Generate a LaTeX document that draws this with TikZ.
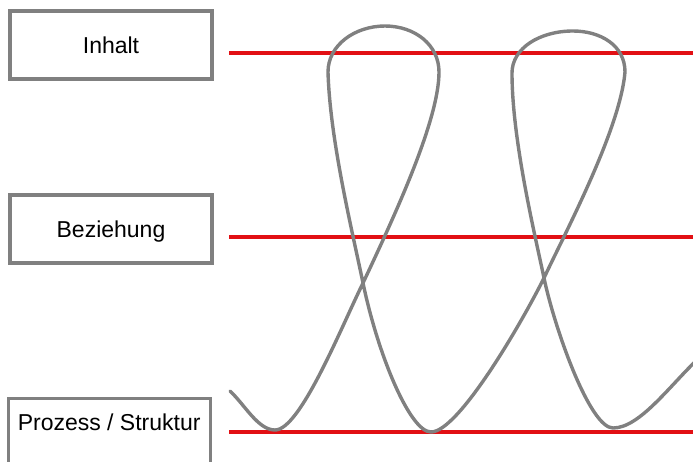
\documentclass[tikz,border=0pt]{standalone}
\usepackage{fontspec}
\setmainfont{Liberation Sans}
\definecolor{levelred}{RGB}{226,16,20}
\definecolor{framegray}{RGB}{128,128,128}
\definecolor{threadgray}{RGB}{128,128,128}
\begin{document}
\begin{tikzpicture}[x=1pt,y=-1pt,
  labelbox/.style={draw=framegray, line width=3.3pt, fill=white, minimum width=202pt,
    minimum height=68pt, inner sep=0pt, text height=17pt, text depth=0pt,
    font=\fontsize{23}{27}\selectfont},
  level/.style={draw=levelred, line width=4pt},
  thread/.style={draw=threadgray, line width=3.4pt}]
\useasboundingbox (0,0) rectangle (693,461);
\clip (0,0) rectangle (693,461);

% level labels
\node[labelbox] (inhalt) at (111,45) {Inhalt};
\node[labelbox] (beziehung) at (111,229) {Beziehung};
\node[labelbox, anchor=north west, minimum height=0pt, text height=31.5pt,
      text depth=45pt, minimum width=202pt] (prozess) at (6.5,397) {Prozess / Struktur};

% level lines
\coordinate (l1a) at (229,53);  \coordinate (l1b) at (693,53);
\coordinate (l2a) at (229,237); \coordinate (l2b) at (693,237);
\coordinate (l3a) at (229,432); \coordinate (l3b) at (693,432);
\draw[level] (l1a) -- (l1b);
\draw[level] (l2a) -- (l2b);
\draw[level] (l3a) -- (l3b);

% the looping thread
\draw[thread, line cap=round]
  (230,391) .. controls (245,405) and (258,430) .. (275,430)
  .. controls (300,430) and (340,330) .. (363,283)
  .. controls (395,215) and (439,120) .. (439,72)
  .. controls (439,45) and (415,26) .. (385,26)
  .. controls (355,26) and (328,45) .. (328,72)
  .. controls (330,140) and (352,230) .. (363,283)
  .. controls (378,355) and (410,432) .. (431,432)
  .. controls (458,432) and (520,326) .. (544,278)
  .. controls (564,235) and (620,130) .. (625,72)
  .. controls (625,45) and (600,31) .. (573,31)
  .. controls (540,31) and (512,48) .. (512,73)
  .. controls (512,140) and (535,235) .. (544,278)
  .. controls (555,330) and (590,428) .. (613,428)
  .. controls (640,428) and (670,385) .. (700,357);
\end{tikzpicture}
\end{document}
